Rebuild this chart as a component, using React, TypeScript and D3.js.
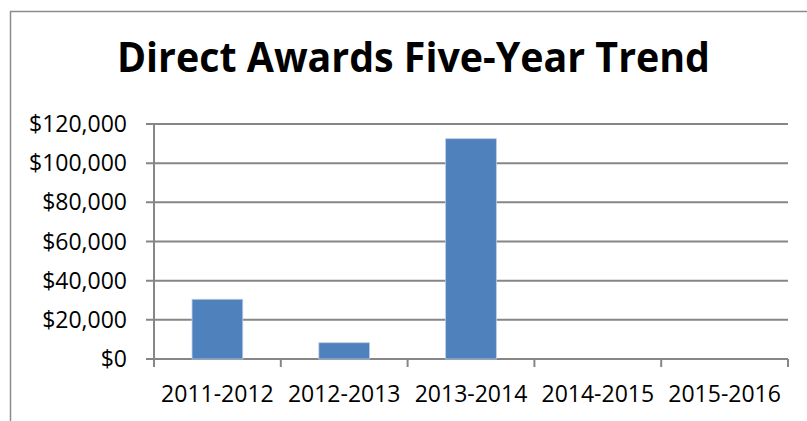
import React, { useEffect, useRef } from 'react';
import * as d3 from 'd3';

const categories = ['2011-2012', '2012-2013', '2013-2014', '2014-2015', '2015-2016'];
const awardValues = [30500, 8300, 112500, 0, 0];
const yTicks = [0, 20000, 40000, 60000, 80000, 100000, 120000];

const width = 807;
const height = 421;

export default function App() {
  const svgRef = useRef<SVGSVGElement>(null);

  useEffect(() => {
    if (!svgRef.current) return;
    const svg = d3.select(svgRef.current);
    svg.selectAll('*').remove();

    const margin = { left: 154, right: 19, top: 124, bottom: 62 };
    const plotW = width - margin.left - margin.right;
    const plotH = height - margin.top - margin.bottom;

    // chart frame
    svg.append('rect')
      .attr('x', 10.5).attr('y', 11.5)
      .attr('width', 820).attr('height', 430)
      .attr('fill', 'white')
      .attr('stroke', '#8c8c8c')
      .attr('stroke-width', 1.5);

    // title
    svg.append('text')
      .attr('x', 413.5).attr('y', 72)
      .attr('text-anchor', 'middle')
      .attr('textLength', 593)
      .attr('lengthAdjust', 'spacingAndGlyphs')
      .style('font-family', '"Open Sans", sans-serif')
      .style('font-weight', 'bold')
      .style('font-size', '41px')
      .text('Direct Awards Five-Year Trend');

    const x = d3.scaleBand().domain(categories).range([0, plotW]).paddingInner(0.6).paddingOuter(0.3);
    const y = d3.scaleLinear().domain([0, 120000]).range([plotH, 0]);

    const g = svg.append('g').attr('transform', `translate(${margin.left},${margin.top})`);

    // gridlines
    g.append('g').selectAll('line')
      .data(yTicks)
      .enter().append('line')
      .attr('x1', -8).attr('x2', plotW)
      .attr('y1', d => y(d)).attr('y2', d => y(d))
      .attr('stroke', '#868686')
      .attr('stroke-width', 2);

    // y labels
    g.append('g').selectAll('text')
      .data(yTicks)
      .enter().append('text')
      .attr('x', -27).attr('y', d => y(d))
      .attr('dy', '0.35em')
      .attr('text-anchor', 'end')
      .style('font-family', '"Open Sans", sans-serif')
      .style('font-size', '23px')
      .attr('fill', '#000')
      .text(d => '$' + d3.format(',')(d));

    // bars
    g.append('g').selectAll('rect')
      .data(awardValues)
      .enter().append('rect')
      .attr('x', (d, i) => x(categories[i])!)
      .attr('y', d => y(d))
      .attr('width', x.bandwidth())
      .attr('height', d => plotH - y(d))
      .attr('fill', '#4f81bd')
      .attr('stroke', '#b9cde5')
      .attr('stroke-width', 0.8)
      .attr('display', d => (d > 0 ? null : 'none'));

    // axes lines
    const step = plotW / categories.length;
    g.append('line')
      .attr('x1', 0).attr('x2', 0).attr('y1', 0).attr('y2', plotH + 8)
      .attr('stroke', '#868686').attr('stroke-width', 2);
    g.append('g').selectAll('line')
      .data(d3.range(categories.length + 1))
      .enter().append('line')
      .attr('x1', d => d * step).attr('x2', d => d * step)
      .attr('y1', plotH).attr('y2', plotH + 8)
      .attr('stroke', '#868686').attr('stroke-width', 2);

    // x labels
    g.append('g').selectAll('text')
      .data(categories)
      .enter().append('text')
      .attr('x', d => x(d)! + x.bandwidth() / 2)
      .attr('y', plotH + 43)
      .attr('text-anchor', 'middle')
      .style('font-family', '"Open Sans", sans-serif')
      .style('font-size', '23px')
      .attr('fill', '#000')
      .text(d => d);
  }, []);

  return (
    <svg ref={svgRef} width={width} height={height}
      style={{ position: 'absolute', left: 0, top: 0, background: 'white' }} />
  );
}
